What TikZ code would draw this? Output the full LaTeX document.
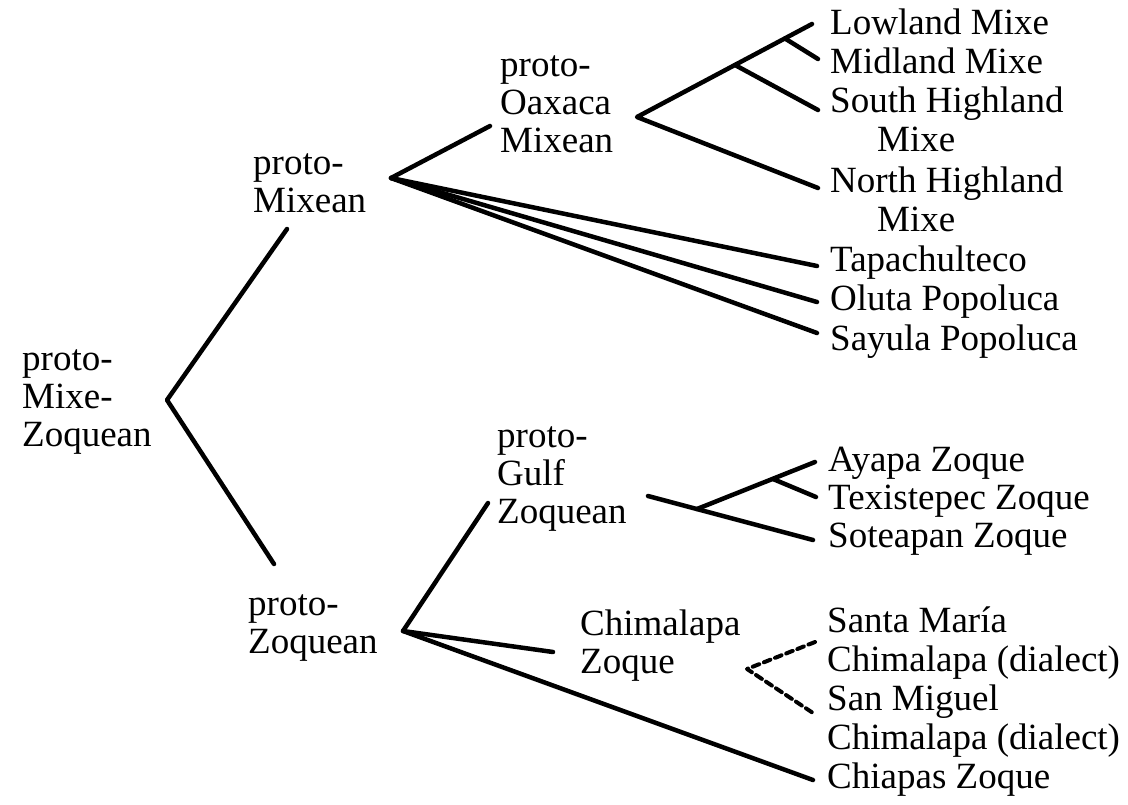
\documentclass[tikz,border=0pt]{standalone}
\usepackage{fontspec}
\setmainfont{Liberation Serif}
\tikzset{
  lang/.style={anchor=base west,inner sep=0pt,align=left,font=\fontsize{37}{39.3}\selectfont},
  proto/.style={lang,font=\fontsize{37}{38}\selectfont},
  branch/.style={line width=4.5pt},
  dialect/.style={line width=4pt,dash pattern=on 7pt off 5pt}
}
\newcommand{\ind}{\hspace*{47pt}}
\begin{document}
\begin{tikzpicture}[line cap=round,line join=round,x=1pt,y=-1pt]
\useasboundingbox (0,0) rectangle (1128,804);
\node[proto] (pmz) at (22,446) {proto-\\Mixe-\\Zoquean};
\node[proto] (pmx) at (253,212) {proto-\\Mixean};
\node[proto] (pox) at (500,152) {proto-\\Oaxaca\\Mixean};
\node[proto] (pgz) at (497,523) {proto-\\Gulf\\Zoquean};
\node[proto] (pzq) at (248,653) {proto-\\Zoquean};
\node[proto] (chz) at (580,673) {Chimalapa\\Zoque};
\node[lang] (low) at (830,34) {Lowland Mixe};
\node[lang] (mid) at (830,73.5) {Midland Mixe};
\node[lang] (sth) at (830,151.8) {South Highland\\\ind Mixe};
\node[lang] (nth) at (830,231.3) {North Highland\\\ind Mixe};
\node[lang] (tap) at (830,271) {Tapachulteco};
\node[lang] (olu) at (830,310) {Oluta Popoluca};
\node[lang] (say) at (830,350) {Sayula Popoluca};
\node[lang] (aya) at (828,471) {Ayapa Zoque};
\node[lang] (tex) at (828,509) {Texistepec Zoque};
\node[lang] (sot) at (828,547) {Soteapan Zoque};
\node[lang] (stm) at (827,671.5) {Santa María\\Chimalapa (dialect)};
\node[lang] (smg) at (827,749.3) {San Miguel\\Chimalapa (dialect)};
\node[lang] (chp) at (827,788) {Chiapas Zoque};
\coordinate (mz) at (167,400);
\coordinate (mz-up) at (287,229);
\coordinate (mz-dn) at (274,564);
\coordinate (mx) at (391,178);
\coordinate (mx-up) at (490,126);
\coordinate (ox) at (637,117);
\coordinate (ox1) at (735,65);
\coordinate (ox2) at (785,38.5);
\coordinate (gz) at (648,496);
\coordinate (gz1) at (697,509);
\coordinate (gz2) at (773,479);
\coordinate (zq) at (403,631);
\coordinate (zq-up) at (488,503);
\coordinate (zq-cz) at (553,652);
\coordinate (cz) at (747,669);
\coordinate (low-e) at (812,24);
\coordinate (mid-e) at (818,59);
\coordinate (sth-e) at (818,110);
\coordinate (nth-e) at (818,188);
\coordinate (tap-e) at (817,266);
\coordinate (olu-e) at (817,302);
\coordinate (say-e) at (817,333);
\coordinate (aya-e) at (815,462);
\coordinate (tex-e) at (816,497);
\coordinate (sot-e) at (813,540);
\coordinate (stm-e) at (815,642);
\coordinate (smg-e) at (813,713);
\coordinate (chp-e) at (813,780);
\draw[branch] (mz-up) -- (mz) -- (mz-dn);
\draw[branch] (mx-up) -- (mx) -- (tap-e);
\draw[branch] (mx) -- (olu-e);
\draw[branch] (mx) -- (say-e);
\draw[branch] (low-e) -- (ox) -- (nth-e);
\draw[branch] (ox1) -- (sth-e);
\draw[branch] (ox2) -- (mid-e);
\draw[branch] (gz) -- (sot-e);
\draw[branch] (gz1) -- (aya-e);
\draw[branch] (gz2) -- (tex-e);
\draw[branch] (zq-up) -- (zq) -- (chp-e);
\draw[branch] (zq) -- (zq-cz);
\draw[dialect] (stm-e) -- (cz) -- (smg-e);
\end{tikzpicture}
\end{document}
